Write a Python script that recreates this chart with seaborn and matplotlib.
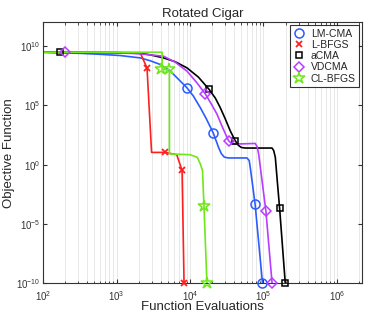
import numpy as np
import pandas as pd
import seaborn as sns
import matplotlib
matplotlib.use('Agg')
import matplotlib.pyplot as plt
from matplotlib.lines import Line2D
from matplotlib.ticker import LogLocator, NullLocator, NullFormatter

# curves (function evaluations, objective value)
lmcma_x = [100, 325, 600, 1127, 2110, 2880, 3950, 5400, 6650, 9100, 11100, 13800, 16700, 20600,
           24500, 26700, 29300, 33200, 59600, 64000, 67000, 77000, 97000]
lmcma_y = [3e9, 2.4e9, 2e9, 1.57e9, 9.9e8, 5.7e8, 2.75e8, 7.6e7, 2.1e7, 3e6, 6.1e5, 6.4e4, 7200, 510,
           28, 8.4, 4.3, 3.65, 3.65, 2.2, 0.31, 4.5e-4, 1e-10]
lmcma_mx = [9100, 20600, 77000, 97000]
lmcma_my = [3e6, 510, 4.5e-4, 1e-10]

lbfgs_x = [100, 2100, 2600, 3000, 4600, 6600, 7800, 8300]
lbfgs_y = [3e9, 2.7e9, 1.4e8, 10.7, 10.7, 6.9, 0.32, 1e-10]
lbfgs_mx = [2600, 4600, 7800, 8300]
lbfgs_my = [1.4e8, 10.7, 0.32, 1e-10]

acma_x = [100, 1000, 2110, 2880, 4380, 6300, 9100, 13000, 18200, 22100, 25800, 30200, 35300, 41300,
          45400, 49900, 56500, 131000, 138000, 145000, 154000, 166000, 198000]
acma_y = [3e9, 2.8e9, 2.4e9, 1.8e9, 9.9e8, 4.7e8, 1.43e8, 2.4e7, 2.2e6, 4.1e5, 6.4e4, 7200, 710, 103,
          43, 28, 25, 25, 15, 4.1, 0.046, 2e-4, 1e-10]
acma_mx = [172, 18200, 41300, 166000, 198000]
acma_my = [3e9, 2.2e6, 103, 2e-4, 1e-10]

vdcma_x = [100, 1000, 2110, 4380, 6300, 9100, 12200, 16100, 19500, 23300, 27500, 33500, 36500, 41300,
           77300, 82000, 86000, 108000, 131000]
vdcma_y = [3e9, 2.7e9, 2.2e9, 1.37e9, 4.3e8, 7.6e7, 9.1e6, 9.5e5, 1.3e5, 1.8e4, 1530, 103, 63, 54,
           61, 32, 7.9, 1.2e-4, 1e-10]
vdcma_mx = [197, 16100, 33500, 108000, 131000]
vdcma_my = [3e9, 9.5e5, 103, 1.2e-4, 1e-10]

clbfgs_x = [100, 4170, 4170, 5250, 5250, 10000, 12600, 13800, 14800, 15500, 17000]
clbfgs_y = [3e9, 3e9, 1.05e8, 1.05e8, 7.9, 6.9, 4.1, 1.15, 0.32, 3e-4, 1e-10]
clbfgs_mx = [4000, 5100, 15500, 17000]
clbfgs_my = [1.05e8, 1.05e8, 3e-4, 1e-10]

names = ['LM-CMA', 'L-BFGS', 'aCMA', 'VDCMA', 'CL-BFGS']
colors = ['#2b5cff', '#ff1f1f', '#000000', '#b83dff', '#6fe81a']
markers = ['o', 'x', 's', 'D', '*']
msizes = [6.5, 5, 5, 5.5, 9]

lines = [(lmcma_x, lmcma_y), (lbfgs_x, lbfgs_y), (acma_x, acma_y), (vdcma_x, vdcma_y), (clbfgs_x, clbfgs_y)]
marks = [(lmcma_mx, lmcma_my), (lbfgs_mx, lbfgs_my), (acma_mx, acma_my), (vdcma_mx, vdcma_my), (clbfgs_mx, clbfgs_my)]

sns.set_style('ticks')
plt.rcParams['font.family'] = ['Liberation Sans', 'DejaVu Sans']
plt.rcParams['mathtext.fontset'] = 'custom'
plt.rcParams['mathtext.rm'] = 'Liberation Sans'
plt.rcParams['mathtext.it'] = 'Liberation Sans'
plt.rcParams['mathtext.default'] = 'regular'

fig = plt.figure(figsize=(3.65, 3.14), dpi=100)
ax = fig.add_axes([0.118, 0.098, 0.874, 0.831])

for (lx, ly), name, c in zip(lines, names, colors):
    df = pd.DataFrame({'x': lx, 'y': ly})
    sns.lineplot(data=df, x='x', y='y', ax=ax, color=c, lw=1.2, sort=False, estimator=None, legend=False)

handles = []
for (mx, my), name, c, m, s in zip(marks, names, colors, markers, msizes):
    if m == 'x':
        ax.plot(mx, my, ls='none', marker=m, ms=s, mec=c, mew=1.3, clip_on=False, zorder=5)
        h = Line2D([], [], ls='none', marker=m, ms=s, mec=c, mew=1.3)
    else:
        ax.plot(mx, my, ls='none', marker=m, ms=s, mec=c, mfc='none', mew=1.1, clip_on=False, zorder=5)
        h = Line2D([], [], ls='none', marker=m, ms=s, mec=c, mfc='none', mew=1.1)
    handles.append(h)

ax.set_xscale('log')
ax.set_yscale('log')
ax.set_xlim(100, 2.2e6)
ax.set_ylim(1e-10, 1e12)
ax.set_yticks([1e-10, 1e-5, 1, 1e5, 1e10])
ax.yaxis.set_minor_locator(NullLocator())
ax.xaxis.set_minor_locator(LogLocator(base=10, subs=np.arange(2, 10), numticks=20))
ax.xaxis.set_minor_formatter(NullFormatter())
ax.xaxis.grid(True, which='both', color='#e8e8e8', lw=0.7)
ax.yaxis.grid(False)
ax.set_axisbelow(True)
ax.tick_params(which='both', direction='in', top=True, right=True, labelsize=7, colors='#333333')
ax.tick_params(axis='y', pad=2)
ax.tick_params(axis='x', pad=4)
ax.tick_params(which='major', length=3)
ax.tick_params(which='minor', length=1.8)
for sp in ax.spines.values():
    sp.set_color('#333333')
    sp.set_linewidth(0.8)

ax.set_xlabel('Function Evaluations', fontsize=9.5, labelpad=-1)
ax.set_ylabel('Objective Function', fontsize=9.5, labelpad=1)
ax.set_title('Rotated Cigar', fontsize=9.5, pad=4)

leg = ax.legend(handles, names, loc='upper right', fontsize=7.5, frameon=True, fancybox=False,
                edgecolor='black', handlelength=1.2, handletextpad=0.5, borderpad=0.3,
                labelspacing=0.12, borderaxespad=0.3)
leg.get_frame().set_linewidth(0.8)

fig.savefig('out.png', dpi=100)
